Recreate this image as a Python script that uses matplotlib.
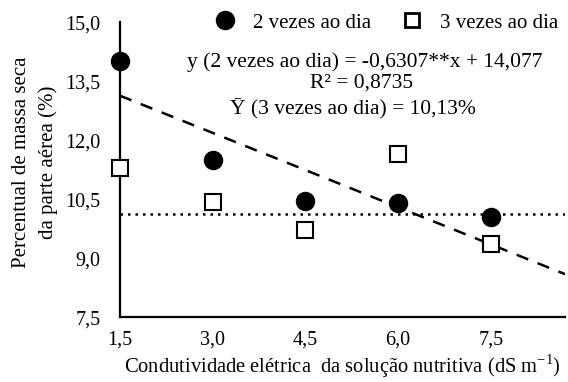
import numpy as np
import matplotlib
matplotlib.use("Agg")
import matplotlib.pyplot as plt
from matplotlib.lines import Line2D

# dados
ce = [1.5, 3.0, 4.5, 6.0, 7.5]
duas_vezes = [14.0, 11.5, 10.45, 10.4, 10.04]
tres_vezes = [11.3, 10.43, 9.72, 11.65, 9.36]
coef_a = -0.6307
coef_b = 14.077
media_tres = 10.13
xticks = [1.5, 3.0, 4.5, 6.0, 7.5]
yticks = [7.5, 9.0, 10.5, 12.0, 13.5, 15.0]

plt.rcParams['font.family'] = ['Liberation Serif', 'DejaVu Serif']
plt.rcParams['mathtext.fontset'] = 'custom'
plt.rcParams['mathtext.rm'] = 'Liberation Serif'

fig = plt.figure(figsize=(5.68, 3.82), dpi=100)
ax = fig.add_axes([0.211, 0.170, 0.784, 0.772])

xlim = (1.5, 8.7)
xs = np.array(xlim)
ax.plot(xs, coef_a * xs + coef_b, color='black', lw=1.8, ls=(0, (5, 4)), zorder=2)
ax.axhline(media_tres, color='black', lw=1.8, ls=(0, (1, 2)), zorder=2)

ax.plot(ce, duas_vezes, 'o', color='black', ms=13, zorder=4, clip_on=False)
ax.plot(ce, tres_vezes, 's', mfc='white', mec='black', mew=1.5, ms=11.5,
        zorder=3, clip_on=False)

ax.set_xlim(*xlim)
ax.set_ylim(7.5, 15.0)
ax.set_xticks(xticks)
ax.set_xticklabels([f"{v:.1f}".replace('.', ',') for v in xticks])
ax.set_yticks(yticks)
ax.set_yticklabels([f"{v:.1f}".replace('.', ',') for v in yticks])
ax.tick_params(axis='y', length=0, pad=14, labelsize=14.5)
ax.tick_params(axis='x', length=0, pad=10, labelsize=14.5)

for s in ['top', 'right']:
    ax.spines[s].set_visible(False)
for s in ['left', 'bottom']:
    ax.spines[s].set_linewidth(1.6)

ax.set_xlabel(r"Condutividade elétrica  da solução nutritiva (dS m$^{\mathregular{-1}}$)",
              fontsize=14.8, labelpad=2)
ax.set_ylabel("Percentual de massa seca\nda parte aérea (%)", fontsize=15,
              linespacing=1.5)
ax.yaxis.set_label_coords(-0.138, 0.525)

handles = [
    Line2D([], [], marker='o', ls='none', color='black', ms=13),
    Line2D([], [], marker='s', ls='none', mfc='white', mec='black', mew=2, ms=10),
]
fig.legend(handles, ["2 vezes ao dia", "3 vezes ao dia"], loc='center left',
           bbox_to_anchor=(0.360, 0.940), ncol=2, frameon=False, borderpad=0,
           fontsize=15, handlelength=1.0, handletextpad=0.85, columnspacing=1.42)

fig.text(0.329, 0.838, "y (2 vezes ao dia) = -0,6307**x + 14,077",
         ha='left', va='center', fontsize=15.5)
fig.text(0.546, 0.783, "R² = 0,8735", ha='left', va='center', fontsize=15.5)
fig.text(0.405, 0.715, "Ȳ (3 vezes ao dia) = 10,13%", ha='left', va='center',
         fontsize=15.5)

fig.savefig("out.png", dpi=100)
